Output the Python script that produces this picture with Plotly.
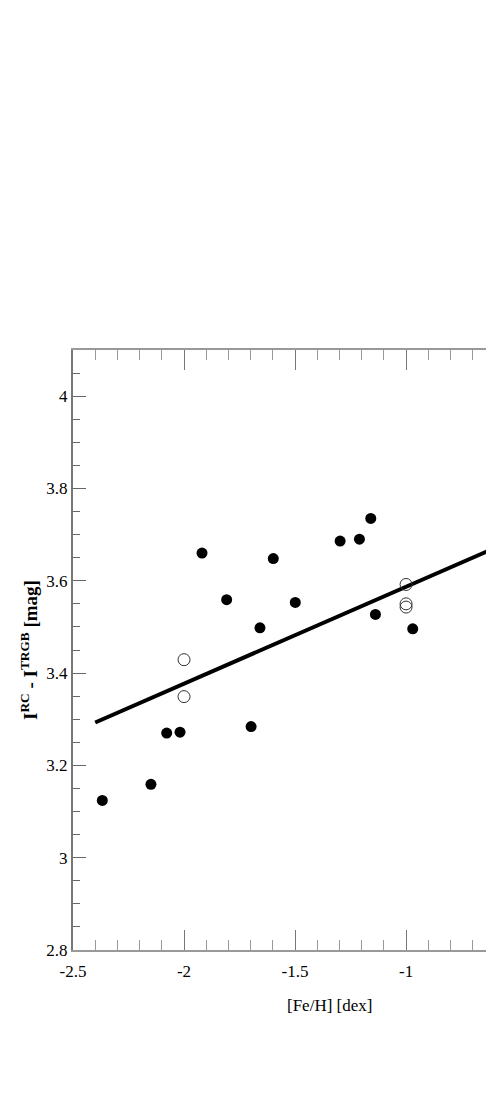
import plotly.graph_objects as go

# Filled symbols
feh_filled = [-2.368, -2.149, -2.078, -2.018, -1.919, -1.808, -1.698, -1.658,
              -1.598, -1.499, -1.297, -1.210, -1.159, -1.138, -0.970]
diff_filled = [3.124, 3.159, 3.270, 3.272, 3.660, 3.559, 3.284, 3.498,
               3.648, 3.553, 3.686, 3.690, 3.735, 3.527, 3.496]

# Open symbols
feh_open = [-2.0, -2.0, -1.0, -1.0, -1.0, -0.595]
diff_open = [3.429, 3.349, 3.592, 3.550, 3.543, 3.599]

# Linear fit
fit_slope = 0.210
fit_intercept = 3.797
fit_x = [-2.4, -0.2]
fit_y = [fit_intercept + fit_slope * v for v in fit_x]

x_tickvals = [-2.5, -2.0, -1.5, -1.0, -0.5]
x_ticktext = ["-2.5", "-2", "-1.5", "-1", "-0.5"]
y_tickvals = [2.8, 3.0, 3.2, 3.4, 3.6, 3.8, 4.0]
y_ticktext = ["2.8", "3", "3.2", "3.4", "3.6", "3.8", "4"]

FONT = "Liberation Serif, DejaVu Serif, serif"

fig = go.Figure()
fig.add_trace(go.Scatter(x=fit_x, y=fit_y, mode="lines",
                         line=dict(color="black", width=4), hoverinfo="skip"))
fig.add_trace(go.Scatter(x=feh_filled, y=diff_filled, mode="markers",
                         marker=dict(symbol="circle", size=11, color="black",
                                     line=dict(width=0))))
fig.add_trace(go.Scatter(x=feh_open, y=diff_open, mode="markers",
                         marker=dict(symbol="circle-open", size=12, color="#333",
                                     line=dict(width=1, color="#333"))))

tickfont = dict(family=FONT, size=17, color="black")

fig.update_xaxes(range=[-2.5, -0.604], tickvals=x_tickvals, ticktext=x_ticktext,
                 showline=True, linecolor="#999", linewidth=2, mirror="ticks",
                 ticks="inside", ticklen=20, tickcolor="#777", tickwidth=1,
                 ticklabelstandoff=5,
                 showgrid=False, zeroline=False, tickfont=tickfont,
                 minor=dict(dtick=0.1, tick0=-2.5, ticks="inside", ticklen=10,
                            tickcolor="#999", tickwidth=1, showgrid=False))
fig.update_yaxes(range=[2.8, 4.1], tickvals=y_tickvals, ticktext=y_ticktext,
                 showline=True, linecolor="#777", linewidth=2, mirror=False,
                 ticks="inside", ticklen=13, tickcolor="#666", tickwidth=1,
                 showgrid=False, zeroline=False, tickfont=tickfont,
                 minor=dict(dtick=0.05, tick0=2.8, ticks="inside", ticklen=7,
                            tickcolor="#666", tickwidth=1, showgrid=False),
                 title=dict(text="<b>I<sup>RC</sup> - I<sup>TRGB</sup> [mag]</b>",
                            font=dict(family=FONT, size=19, color="black"),
                            standoff=4))

fig.add_annotation(text="[Fe/H] [dex]", x=-1.347, xref="x", y=0, yref="paper",
                   yshift=-55, yanchor="middle", showarrow=False,
                   font=dict(family=FONT, size=17, color="black"))

fig.update_layout(width=486, height=1040, showlegend=False,
                  margin=dict(l=65, r=0, t=342, b=98),
                  plot_bgcolor="white", paper_bgcolor="white")

fig.write_html("out.html")
